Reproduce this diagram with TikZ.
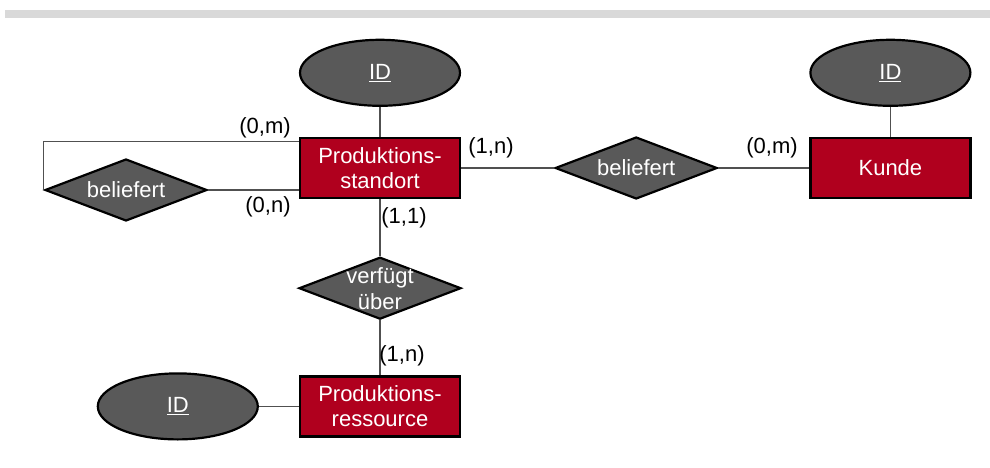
\documentclass[tikz,border=0pt]{standalone}
\usepackage{fontspec}
\setmainfont{Liberation Sans}
\usetikzlibrary{shapes.geometric}
\usetikzlibrary{positioning}
\definecolor{entRed}{HTML}{B0001E}
\definecolor{shapeGray}{HTML}{595959}
\definecolor{lineGray}{HTML}{505050}
\definecolor{barGray}{HTML}{D9D9D9}

\begin{document}
\begin{tikzpicture}[x=1pt,y=-1pt,
            font=\fontsize{22}{25}\selectfont,
            entity/.style = {draw,line width=2.2pt,fill=entRed,text=white,
                minimum width=160pt,minimum height=60pt,inner sep=0pt,
                align=center},
            attr/.style = {ellipse,draw,line width=2.2pt,fill=shapeGray,
                text=white,minimum width=160pt,minimum height=66pt,
                inner sep=0pt},
            rel/.style = {diamond,draw,line width=2.2pt,fill=shapeGray,
                minimum width=162pt,minimum height=62pt,inner sep=0pt},
            reltext/.style = {text=white,align=center,
                font=\fontsize{22}{26}\selectfont},
            conn/.style = {draw=lineGray,line width=1.1pt},
            card/.style = {inner sep=0pt}]
            \useasboundingbox (0,0) rectangle (990,468);
            \fill[barGray] (5,10) rectangle (990,18);
            % entities and attributes
            \node[entity](standort) at (380,168) {Produktions-\\standort};
            \node[attr,above=30pt of standort](idStandort) {\underline{ID}};
            \node[rel,right=93pt of standort,
                label={[reltext]center:beliefert}](liefertKunde) {};
            \node[entity,right=91pt of liefertKunde](kunde) {Kunde};
            \node[attr,above=30pt of kunde](idKunde) {\underline{ID}};
            \node[rel,below=57pt of standort,
                label={[reltext]center:verfügt\\über}](verfuegt) {};
            \node[entity,below=55pt of verfuegt](ressource)
                {Produktions-\\ressource};
            \node[attr,left=40pt of ressource](idRessource) {\underline{ID}};
            \node[rel,label={[reltext]center:beliefert}](liefertSelbst)
                at (126,190) {};
            % connectors
            \path[conn]
                (idStandort) edge (standort)
                (idKunde) edge (kunde)
                (idRessource) edge (ressource)
                (standort) edge (liefertKunde)
                (liefertKunde) edge (kunde)
                (standort) edge (verfuegt)
                (verfuegt) edge (ressource);
            \draw[conn] ([yshift=-5pt]standort.north west) -| (liefertSelbst.west);
            \draw[conn] (liefertSelbst.east) -- (liefertSelbst.east -| standort.west);
            % cardinalities
            \node[card] (cardSelbstM) at (265,128) {(0,m)};
            \node[card] (cardSelbstN) at (268,207) {(0,n)};
            \node[card] (cardStandortK) at (491,148) {(1,n)};
            \node[card] (cardKunde) at (772,148) {(0,m)};
            \node[card] (cardStandortV) at (404,218) {(1,1)};
            \node[card] (cardRessource) at (402,356) {(1,n)};
        \end{tikzpicture}
\end{document}
